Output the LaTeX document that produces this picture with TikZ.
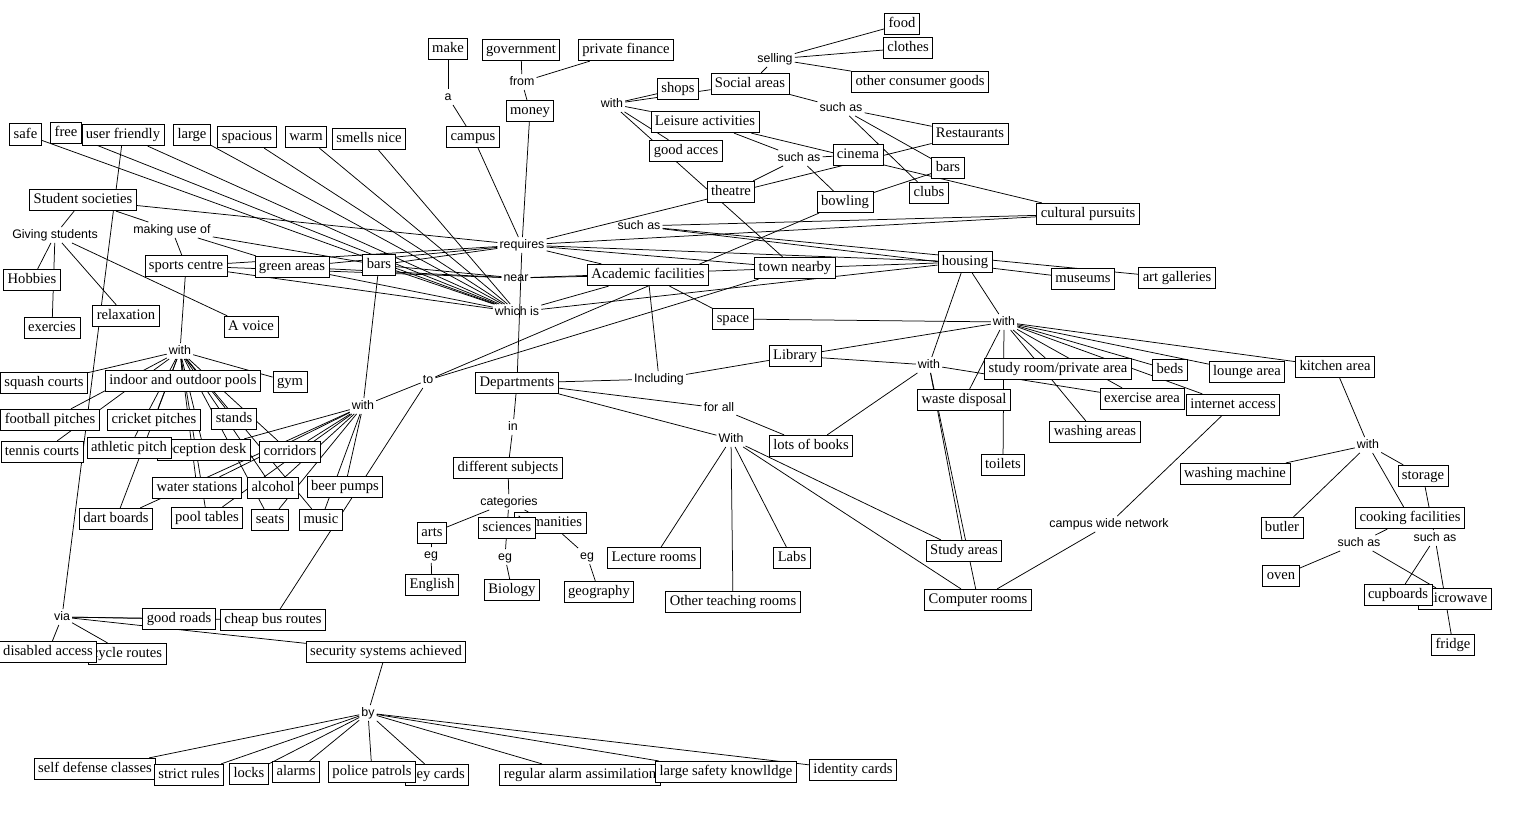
\documentclass[tikz,border=0pt]{standalone}
\usepackage{fontspec}
\setmainfont{Liberation Serif}
\newfontfamily\linkfont{Liberation Sans}
\usetikzlibrary{backgrounds}
\begin{document}
\begin{tikzpicture}[x=1pt,y=-1pt,
 c/.style={draw,fill=white,line width=0.75pt,inner xsep=4pt,inner ysep=0pt,text height=10.5pt,text depth=3.5pt,minimum height=21.5pt,font=\fontsize{14.6}{16}\selectfont},
 lk/.style={inner sep=2pt,text height=9pt,text depth=2.5pt,font=\linkfont\fontsize{12.4}{14}\selectfont},
 ed/.style={line width=0.75pt}]
\useasboundingbox (0,0) rectangle (1532,827);
% top
\node[c] (make) at (448,49) {make};
\node[c] (gov) at (521,50) {government};
\node[c] (pfin) at (626,50) {private finance};
\node[lk] (la) at (448,97) {a};
\node[lk] (lfrom) at (522,82) {from};
\node[c] (money) at (530,111) {money};
\node[c] (campus) at (473,137) {campus};
\node[c] (food) at (902,24) {food};
\node[c] (clothes) at (908,48) {clothes};
\node[c] (ocg) at (920,82) {other consumer goods};
\node[lk] (lsell) at (775,59) {selling};
\node[c] (shops) at (678,89) {shops};
\node[c] (social) at (750,84) {Social areas};
\node[lk] (lwithT) at (612,104) {with};
\node[lk] (lsuchTR) at (841,108) {such as};
\node[c] (leisure) at (705,122) {Leisure activities};
\node[c] (goodacc) at (686,151) {good acces};
\node[c] (rest) at (970,134) {Restaurants};
\node[lk] (lsuchM) at (799,158) {such as};
\node[c] (cinema) at (858,155) {cinema};
\node[c] (barsR) at (948,168) {bars};
\node[c] (theatre) at (731,192) {theatre};
\node[c] (bowling) at (845,202) {bowling};
\node[c] (clubs) at (929,193) {clubs};
\node[c] (cultural) at (1088,214) {cultural pursuits};
% attributes
\node[c] (safe) at (25.5,134.5) {safe};
\node[c] (free) at (66,133) {free};
\node[c] (userf) at (123,135) {user friendly};
\node[c] (large) at (192,135) {large};
\node[c] (spacious) at (247,137) {spacious};
\node[c] (warm) at (306,137) {warm};
\node[c] (smells) at (369,139) {smells nice};
% left
\node[c] (studsoc) at (83,200) {Student societies};
\node[lk] (lgiving) at (55,235) {Giving students};
\node[lk] (lmaking) at (172,230) {making use of};
\node[c] (hobbies) at (32,280) {Hobbies};
\node[c] (exercies) at (52,328) {exercies};
\node[c] (relax) at (126,316) {relaxation};
\node[c] (voice) at (251,327) {A voice};
\node[c] (sports) at (186,266) {sports centre};
\node[c] (green) at (292,267) {green areas};
\node[c] (barsL) at (379,265) {bars};
% hub
\node[lk] (lreq) at (522,245) {requires};
\node[lk] (lnear) at (516,278) {near};
\node[lk] (lwhich) at (517,312) {which is};
\node[lk] (lsuchL) at (639,226) {such as};
\node[c] (acad) at (648,275) {Academic facilities};
\node[c] (town) at (795,268) {town nearby};
\node[c] (housing) at (965,262) {housing};
\node[c] (museums) at (1083,279) {museums};
\node[c] (artg) at (1177,278) {art galleries};
\node[c] (space) at (733,319) {space};
\node[lk] (lwithH) at (1004,322) {with};
\node[c] (library) at (795,356) {Library};
\node[lk] (lincl) at (659,379) {Including};
\node[c] (depts) at (517,383) {Departments};
\node[lk] (lto) at (428,380) {to};
\node[lk] (lwithL) at (929,365) {with};
\node[c] (study) at (1058,369) {study room/private area};
\node[c] (beds) at (1170,370) {beds};
\node[c] (lounge) at (1247,372) {lounge area};
\node[c] (kitchen) at (1335,367) {kitchen area};
\node[c] (waste) at (964,400) {waste disposal};
\node[c] (exarea) at (1142,399) {exercise area};
\node[c] (internet) at (1233,405) {internet access};
\node[c] (washareas) at (1095,432) {washing areas};
\node[c] (toilets) at (1003,465) {toilets};
\node[lk] (lforall) at (719,408) {for all};
\node[lk] (lWith) at (731,439) {With};
\node[c] (books) at (811,446) {lots of books};
\node[lk] (lin) at (513,427) {in};
\node[c] (diffsub) at (508,468) {different subjects};
\node[lk] (lcat) at (509,502) {categories};
\node[c] (arts) at (432,533) {arts};
\node[c] (humanities) at (550,523) {humanities};
\node[c] (sciences) at (507,528) {sciences};
\node[lk] (leg1) at (431,555) {eg};
\node[lk] (leg2) at (505,557) {eg};
\node[lk] (leg3) at (587,556) {eg};
\node[c] (english) at (432,585) {English};
\node[c] (biology) at (512,590) {Biology};
\node[c] (geography) at (599,592) {geography};
\node[c] (lecture) at (654,558) {Lecture rooms};
\node[c] (labs) at (792,558) {Labs};
\node[c] (otherteach) at (733,602) {Other teaching rooms};
\node[c] (studyareas) at (964,551) {Study areas};
\node[c] (computer) at (978,600) {Computer rooms};
\node[lk] (lcwn) at (1109,524) {campus wide network};
% kitchen
\node[lk] (lwithK) at (1368,445) {with};
\node[c] (washmach) at (1235,474) {washing machine};
\node[c] (storage) at (1423,476) {storage};
\node[c] (butler) at (1282,528) {butler};
\node[c] (cooking) at (1410,518) {cooking facilities};
\node[lk] (lsuchCL) at (1359,543) {such as};
\node[lk] (lsuchCR) at (1435,538) {such as};
\node[c] (oven) at (1281,576) {oven};
\node[c] (microwave) at (1455,599) {microwave};
\node[c] (cupboards) at (1398,595) {cupboards};
\node[c] (fridge) at (1453,645) {fridge};
% sports
\node[lk] (lwithS) at (180,351) {with};
\node[c] (squash) at (44,383) {squash courts};
\node[c] (pools) at (183,381) {indoor and outdoor pools};
\node[c] (gym) at (290,382) {gym};
\node[c] (football) at (50,420) {football pitches};
\node[c] (cricket) at (154,420) {cricket pitches};
\node[c] (stands) at (234,419) {stands};
\node[c] (reception) at (204,450) {reception desk};
\node[c] (athletic) at (129,448) {athletic pitch};
\node[c] (corridors) at (290,452) {corridors};
\node[c] (tennis) at (42,452) {tennis courts};
\node[lk] (lwithB) at (363,406) {with};
\node[c] (water) at (197,488) {water stations};
\node[c] (alcohol) at (273,488) {alcohol};
\node[c] (beer) at (345,487) {beer pumps};
\node[c] (dart) at (116,519) {dart boards};
\node[c] (pooltab) at (207,518) {pool tables};
\node[c] (seats) at (270,520) {seats};
\node[c] (music) at (321,520) {music};
% via / security
\node[lk] (lvia) at (62,617) {via};
\node[c] (goodroads) at (179,619) {good roads};
\node[c] (cheapbus) at (273,620) {cheap bus routes};
\node[c] (cycle) at (127,654) {cycle routes};
\node[c] (disabled) at (48,652) {disabled access};
\node[c] (security) at (386,652) {security systems achieved};
\node[lk] (lby) at (368,713) {by};
\node[c] (selfdef) at (95,769) {self defense classes};
\node[c] (strict) at (189,775) {strict rules};
\node[c] (locks) at (249,774) {locks};
\node[c] (alarms) at (296,772) {alarms};
\node[c] (keycards) at (437,775) {key cards};
\node[c] (police) at (372,772) {police patrols};
\node[c] (regalarm) at (580,775) {regular alarm assimilation};
\node[c] (largesafety) at (726,772) {large safety knowlldge};
\node[c] (identity) at (853,770) {identity cards};
\begin{pgfonlayer}{background}
\fill[white] (0,0) rectangle (1532,827);
\foreach \a/\b in {make/la, la/campus, gov/lfrom, pfin/lfrom, lfrom/money, money/lreq, campus/lreq, lreq/depts,
 social/lsell, lsell/food, lsell/clothes, lsell/ocg, social/lwithT, lwithT/shops, lwithT/leisure, lwithT/goodacc, lwithT/town,
 social/lsuchTR, lsuchTR/rest, lsuchTR/barsR, lsuchTR/clubs,
 leisure/lsuchM, lsuchM/cinema, lsuchM/theatre, lsuchM/bowling, leisure/cultural, lreq/rest, bowling/barsR,
 cultural/lsuchL, lsuchL/museums, lsuchL/artg, lreq/cultural,
 safe/lwhich, free/lwhich, userf/lwhich, large/lwhich, spacious/lwhich, warm/lwhich, smells/lwhich, userf/lvia,
 studsoc/lgiving, studsoc/lmaking, studsoc/lreq,
 lgiving/hobbies, lgiving/exercies, lgiving/relax, lgiving/voice,
 lmaking/sports, lmaking/green, lmaking/barsL,
 sports/lreq, sports/lnear, sports/lwhich, green/lreq, green/lnear, green/lwhich, barsL/lreq, barsL/lnear, barsL/lwhich,
 lreq/acad, lreq/town, lreq/housing, lnear/acad, lnear/housing, lwhich/acad, lwhich/housing,
 lto/bowling, lto/town, lto/lwithB, lto/cheapbus,
 acad/space, acad/lincl, lincl/depts, lincl/library,
 space/lwithH, housing/lwithH, lwithH/library,
 housing/lwithL, library/lwithL, lwithL/books, lwithL/exarea, lwithL/studyareas, lwithL/computer,
 lwithH/waste, lwithH/toilets, lwithH/study, lwithH/washareas, lwithH/exarea, lwithH/beds, lwithH/lounge, lwithH/kitchen, lwithH/internet,
 kitchen/lwithK, lwithK/washmach, lwithK/butler, lwithK/storage, lwithK/cooking,
 storage/lsuchCR, lsuchCR/cupboards, lsuchCR/fridge, cooking/lsuchCL, lsuchCL/oven, lsuchCL/microwave,
 internet/lcwn, lcwn/computer,
 depts/lforall, lforall/books, depts/lWith, lWith/lecture, lWith/otherteach, lWith/labs, lWith/studyareas, lWith/computer,
 depts/lin, lin/diffsub, diffsub/lcat, lcat/arts, lcat/sciences, lcat/humanities,
 arts/leg1, leg1/english, sciences/leg2, leg2/biology, humanities/leg3, leg3/geography,
 sports/lwithS, lwithS/squash, lwithS/pools, lwithS/gym, lwithS/football, lwithS/tennis, lwithS/cricket, lwithS/athletic,
 lwithS/dart, lwithS/reception, lwithS/water, lwithS/pooltab, lwithS/stands, lwithS/corridors, lwithS/seats, lwithS/alcohol, lwithS/music,
 barsL/lwithB, lwithB/corridors, lwithB/water, lwithB/dart, lwithB/pooltab, lwithB/alcohol, lwithB/seats, lwithB/music, lwithB/beer, lwithB/reception,
 lvia/goodroads, lvia/cheapbus, lvia/security, lvia/disabled, lvia/cycle,
 security/lby, lby/selfdef, lby/strict, lby/locks, lby/alarms, lby/police, lby/keycards, lby/regalarm, lby/largesafety, lby/identity}
 {\draw[ed] (\a) -- (\b);}
\end{pgfonlayer}
\end{tikzpicture}
\end{document}
